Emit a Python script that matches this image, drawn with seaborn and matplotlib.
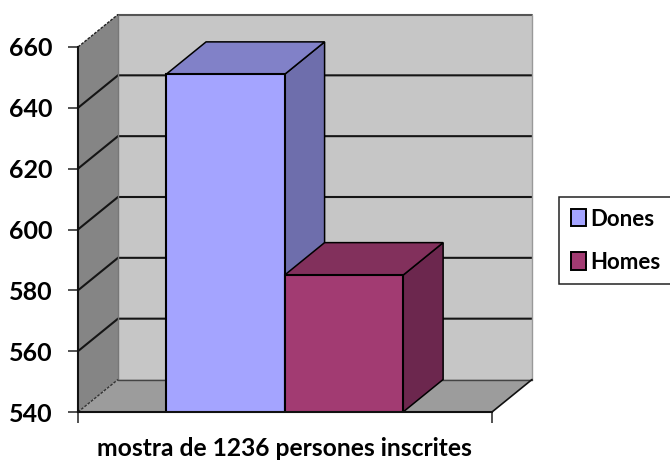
import pandas as pd
import matplotlib
matplotlib.use("Agg")
import matplotlib.pyplot as plt
from matplotlib.patches import Polygon, Patch
import seaborn as sns

sns.set_theme(style="white")
plt.rcParams['font.family'] = ['Lato', 'DejaVu Sans']

# values
series = ["Dones", "Homes"]
values = [651, 585]
front_colors = ["#a4a4ff", "#a23b72"]
top_colors = ["#8181c8", "#82305c"]
side_colors = ["#6e6eac", "#6c274e"]
y_ticks = [540, 560, 580, 600, 620, 640, 660]
x_label = "mostra de 1236 persones inscrites"

df = pd.DataFrame({"serie": series, "valor": values})

W, H = 670, 462
fig = plt.figure(figsize=(W / 100, H / 100), dpi=100)
ax = fig.add_axes([78 / W, (H - 412) / H, 414 / W, 365 / H])

sns.barplot(data=df, x="serie", y="valor", hue="serie", palette=front_colors,
            saturation=1, width=1.0, legend=False, edgecolor="black", linewidth=1.5, ax=ax)

ax.set_ylim(y_ticks[0], y_ticks[-1])
x0, x1 = -1.243, 2.25
ax.set_xlim(x0, x1)

# 3d depth of the box, in data units
dx = 40 / 118.5
dy = 32.5 / 365 * 120
y0, y_top = ax.get_ylim()


def face(pts, color, z, edge="none", lw=0):
    ax.add_patch(Polygon(pts, closed=True, facecolor=color, edgecolor=edge,
                         linewidth=lw, zorder=z, clip_on=False))


# walls and floor
face([(x0 + dx, y0 + dy), (x1 + dx, y0 + dy), (x1 + dx, y_top + dy), (x0 + dx, y_top + dy)], "#c6c6c6", 0.5)
face([(x0, y0), (x0 + dx, y0 + dy), (x0 + dx, y_top + dy), (x0, y_top)], "#858585", 0.6)
face([(x0, y0), (x1, y0), (x1 + dx, y0 + dy), (x0 + dx, y0 + dy)], "#9c9c9c", 0.6)

# grid lines go along the side wall and the back wall
for t in y_ticks[1:-1]:
    ax.plot([x0, x0 + dx, x1 + dx], [t, t + dy, t + dy], color="#151515", lw=1.5,
            zorder=0.9, clip_on=False, solid_joinstyle="miter")
ax.plot([x0 + dx, x1 + dx], [y_top + dy, y_top + dy], color="#555555", lw=1.5, zorder=0.9, clip_on=False)
ax.plot([x0 + dx, x0 + dx], [y0 + dy, y_top + dy], color="#777777", lw=1, zorder=0.9, clip_on=False)
ax.plot([x1 + dx, x1 + dx], [y0 + dy, y_top + dy], color="#999999", lw=1, zorder=0.9, clip_on=False)
ax.plot([x0 + dx, x1 + dx], [y0 + dy, y0 + dy], color="#444444", lw=1, zorder=0.9, clip_on=False)
ax.plot([x0, x0 + dx], [y_top, y_top + dy], color="#222222", lw=1, ls=(0, (2, 1)), zorder=0.9, clip_on=False)
ax.plot([x0, x0 + dx], [y0, y0 + dy], color="#333333", lw=1, ls=(0, (2, 1)), zorder=0.9, clip_on=False)
ax.plot([x1, x1 + dx], [y0, y0 + dy], color="#111111", lw=1.2, zorder=0.9, clip_on=False)

# side and top of every bar, taken from the seaborn bars
for i, bar in enumerate(ax.patches[:2]):
    left = bar.get_x()
    right = left + bar.get_width()
    top = bar.get_height()
    z = 3 + i
    bar.set_zorder(z + 0.1)
    face([(right, y0), (right + dx, y0 + dy), (right + dx, top + dy), (right, top)],
         side_colors[i], z, "black", 1.1)
    face([(left, top), (right, top), (right + dx, top + dy), (left + dx, top + dy)],
         top_colors[i], z, "black", 1.1)

ax.set_yticks(y_ticks)
ax.set_xticks([x0, x1], ["", ""])
ax.tick_params(axis="y", length=7.2, width=1.1, color="#222222", pad=11, labelsize=18, labelcolor="black", left=True)
ax.tick_params(axis="x", length=8, width=1.1, color="#222222", bottom=True)
for label in ax.get_yticklabels():
    label.set_fontweight("bold")

ax.set_ylabel("")
ax.set_xlabel("")
fig.text(284 / W, (H - 449) / H, x_label, ha="center", va="center", fontsize=17.7,
         fontweight="bold", color="black")

for s in ["top", "right"]:
    ax.spines[s].set_visible(False)
for s in ["left", "bottom"]:
    ax.spines[s].set_color("#111111")
    ax.spines[s].set_linewidth(1.5)
    ax.spines[s].set_zorder(6)

handles = [Patch(facecolor=c, edgecolor="black", linewidth=1.4, label=s) for c, s in zip(front_colors, series)]
leg = fig.legend(handles=handles, loc="upper left", bbox_to_anchor=(559 / W, (H - 197) / H),
                 bbox_transform=fig.transFigure, frameon=True, fancybox=False,
                 edgecolor="#222222", framealpha=1, borderaxespad=0, borderpad=0.52,
                 handlelength=0.7, handleheight=0.82, handletextpad=0.2, labelspacing=1.0,
                 labelcolor="black", prop={"family": "Lato", "weight": "bold", "size": 16})
leg.get_frame().set_linewidth(1.1)

fig.savefig("out.png", dpi=100)
